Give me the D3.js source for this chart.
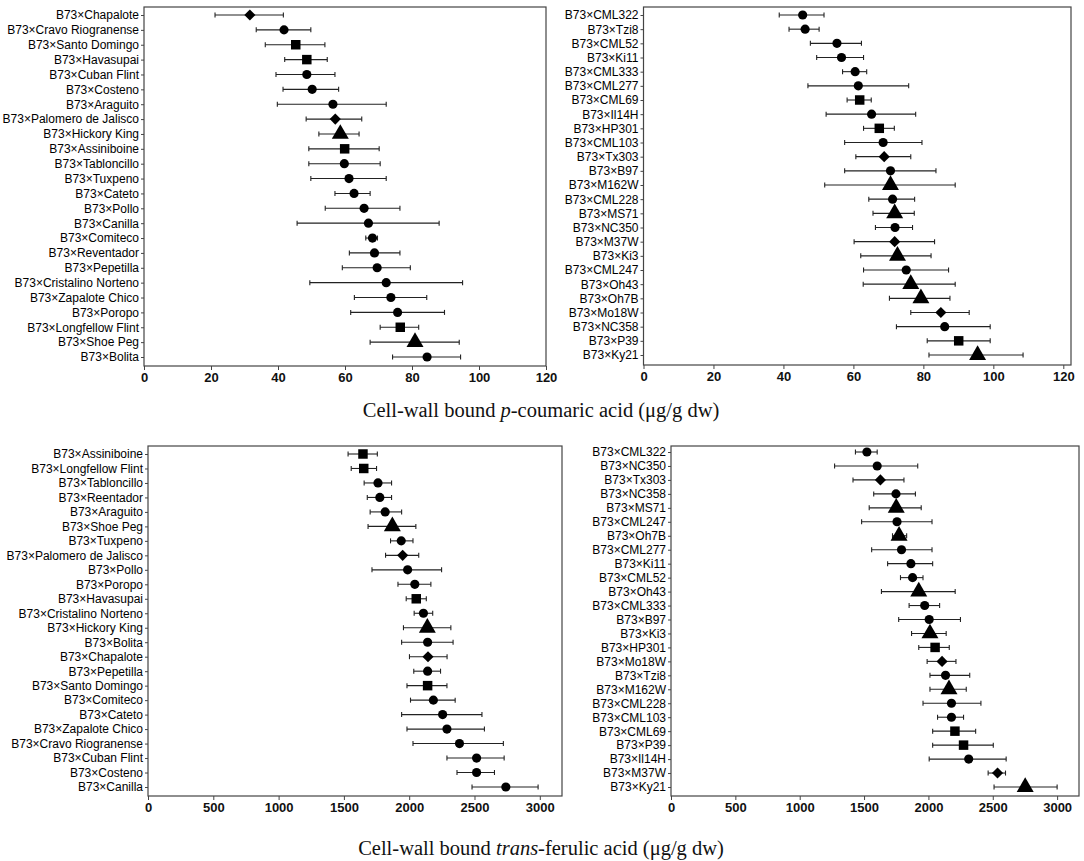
<!DOCTYPE html>
<html>
<head>
<meta charset="utf-8">
<script src="https://cdn.jsdelivr.net/npm/d3@7"></script>
<style>
  body { margin: 0; background: #fff; }
  svg { display: block; }
</style>
</head>
<body>
<div id="chart"></div>
<script>
// p-coumaric acid, landrace hybrids (top left)
const pcLandNames = ["Chapalote", "Cravo Riogranense", "Santo Domingo", "Havasupai", "Cuban Flint", "Costeno",
  "Araguito", "Palomero de Jalisco", "Hickory King", "Assiniboine", "Tabloncillo", "Tuxpeno", "Cateto", "Pollo",
  "Canilla", "Comiteco", "Reventador", "Pepetilla", "Cristalino Norteno", "Zapalote Chico", "Poropo",
  "Longfellow Flint", "Shoe Peg", "Bolita"];
const pcLandMean = [31.6, 41.8, 45.3, 48.6, 48.6, 50.2, 56.4, 57.1, 58.6, 59.9, 59.8, 61.2, 62.7, 65.7,
  67.0, 68.2, 68.8, 69.6, 72.3, 73.7, 75.7, 76.5, 80.9, 84.5];
const pcLandLow = [21.2, 33.5, 36.2, 42.0, 39.4, 41.5, 39.8, 48.4, 52.2, 49.2, 49.2, 49.8, 57.0, 54.1,
  45.7, 66.2, 61.3, 59.2, 49.5, 62.8, 61.7, 70.5, 67.5, 74.2];
const pcLandHigh = [41.6, 49.8, 54.0, 54.7, 57.0, 58.1, 72.3, 65.0, 64.2, 70.2, 70.5, 72.3, 67.5, 76.4,
  88.1, 69.7, 76.4, 79.5, 95.1, 84.4, 89.7, 82.0, 94.1, 94.5];

// p-coumaric acid, inbred hybrids (top right)
const pcInbNames = ["CML322", "Tzi8", "CML52", "Ki11", "CML333", "CML277", "CML69", "Il14H", "HP301", "CML103",
  "Tx303", "B97", "M162W", "CML228", "MS71", "NC350", "M37W", "Ki3", "CML247", "Oh43", "Oh7B", "Mo18W",
  "NC358", "P39", "Ky21"];
const pcInbMean = [45.5, 46.2, 55.3, 56.6, 60.5, 61.4, 61.8, 65.2, 67.4, 68.5, 68.8, 70.6, 70.6, 71.2,
  71.8, 71.9, 71.8, 72.6, 75.1, 76.4, 79.3, 85.0, 86.1, 90.1, 95.5];
const pcInbLow = [38.8, 41.6, 47.7, 49.5, 56.9, 47.0, 58.2, 52.2, 62.9, 57.5, 60.7, 57.5, 51.8, 64.4,
  65.6, 66.3, 60.2, 62.1, 62.9, 62.8, 70.3, 76.4, 72.3, 81.1, 81.6];
const pcInbHigh = [51.6, 50.2, 62.3, 62.9, 63.8, 75.8, 65.1, 77.8, 71.7, 79.6, 76.4, 83.6, 89.1, 77.5,
  77.4, 76.9, 83.2, 82.2, 87.2, 89.1, 87.6, 93.1, 99.1, 99.1, 108.5];

// trans-ferulic acid, landrace hybrids (bottom left)
const faLandNames = ["Assiniboine", "Longfellow Flint", "Tabloncillo", "Reentador", "Araguito", "Shoe Peg",
  "Tuxpeno", "Palomero de Jalisco", "Pollo", "Poropo", "Havasupai", "Cristalino Norteno", "Hickory King",
  "Bolita", "Chapalote", "Pepetilla", "Santo Domingo", "Comiteco", "Cateto", "Zapalote Chico",
  "Cravo Riogranense", "Cuban Flint", "Costeno", "Canilla"];
const faLandMean = [1646, 1652, 1761, 1775, 1816, 1871, 1939, 1950, 1988, 2043, 2054, 2109, 2139,
  2141, 2144, 2141, 2141, 2185, 2256, 2289, 2385, 2516, 2516, 2740];
const faLandLow = [1532, 1556, 1655, 1679, 1701, 1685, 1857, 1819, 1715, 1914, 1977, 2038, 1956,
  1942, 2002, 2035, 1983, 2010, 1942, 1983, 2029, 2289, 2366, 2481];
const faLandHigh = [1756, 1750, 1865, 1865, 1942, 2051, 2029, 2073, 2248, 2166, 2131, 2180, 2319,
  2336, 2290, 2240, 2289, 2352, 2557, 2576, 2721, 2727, 2653, 2987];

// trans-ferulic acid, inbred hybrids (bottom right)
const faInbNames = ["CML322", "NC350", "Tx303", "NC358", "MS71", "CML247", "Oh7B", "CML277", "Ki11", "CML52",
  "Oh43", "CML333", "B97", "Ki3", "HP301", "Mo18W", "Tzi8", "M162W", "CML228", "CML103", "CML69", "P39",
  "Il14H", "M37W", "Ky21"];
const faInbMean = [1522, 1602, 1627, 1748, 1750, 1756, 1772, 1791, 1864, 1877, 1925, 1971, 2006, 2012,
  2052, 2106, 2133, 2160, 2179, 2179, 2206, 2273, 2313, 2537, 2752];
const faInbLow = [1433, 1271, 1414, 1575, 1540, 1481, 1721, 1559, 1683, 1783, 1635, 1850, 1769, 1869,
  1925, 1990, 2012, 2012, 1958, 2071, 2033, 2033, 2006, 2464, 2510];
const faInbHigh = [1602, 1917, 1810, 1899, 1944, 2028, 1831, 2028, 2033, 1958, 2208, 2087, 2249, 2138,
  2162, 2214, 2321, 2294, 2408, 2273, 2367, 2504, 2604, 2599, 3000];

// marker shape groups
const squareLines = ["Santo Domingo", "Havasupai", "Assiniboine", "Longfellow Flint", "CML69", "HP301", "P39"];
const diamondLines = ["Chapalote", "Palomero de Jalisco", "Tx303", "M37W", "Mo18W"];
const triangleLines = ["Hickory King", "Shoe Peg", "M162W", "MS71", "Ki3", "Oh43", "Oh7B", "Ky21"];

const pcTicks = [0, 20, 40, 60, 80, 100, 120];
const faTicks = [0, 500, 1000, 1500, 2000, 2500, 3000];

const W = 1084, H = 861;
const svg = d3.select("#chart").append("svg")
  .attr("width", W)
  .attr("height", H)
  .style("font-family", "Lato, 'Open Sans', sans-serif");

function drawPanel(names, mean, low, high, box, xMax, ticks) {
  const x = d3.scaleLinear().domain([0, xMax]).range([box.left, box.right]);
  const y = d3.scalePoint().domain(names).range([box.rowTop, box.rowBottom]);
  const g = svg.append("g");

  g.append("rect")
    .attr("x", box.left).attr("y", box.top)
    .attr("width", box.right - box.left).attr("height", box.bottom - box.top)
    .attr("fill", "none").attr("stroke", "#444").attr("stroke-width", 1.2);

  // y axis
  const ya = g.append("g")
    .attr("transform", "translate(" + box.left + ",0)")
    .call(d3.axisLeft(y).tickSize(3).tickPadding(2).tickFormat(d => "B73×" + d));
  ya.select(".domain").remove();
  ya.selectAll("line").attr("stroke", "#444");
  ya.selectAll("text").attr("font-size", 12).attr("fill", "#000");

  // x axis
  const xa = g.append("g")
    .attr("transform", "translate(0," + box.bottom + ")")
    .call(d3.axisBottom(x).tickValues(ticks).tickFormat(d3.format("d")).tickSize(4).tickPadding(3));
  xa.select(".domain").remove();
  xa.selectAll("line").attr("stroke", "#444");
  xa.selectAll("text").attr("font-size", 13).attr("font-weight", 600).attr("fill", "#111");

  const rows = names.map((n, i) => ({ name: n, mean: mean[i], low: low[i], high: high[i] }));
  const bars = g.append("g").attr("stroke", "#222").attr("stroke-width", 1.1);
  bars.selectAll(".err").data(rows).join("line")
    .attr("x1", d => x(d.low)).attr("x2", d => x(d.high))
    .attr("y1", d => y(d.name)).attr("y2", d => y(d.name));
  bars.selectAll(".capL").data(rows).join("line").attr("class", "capL")
    .attr("x1", d => x(d.low)).attr("x2", d => x(d.low))
    .attr("y1", d => y(d.name) - 2.5).attr("y2", d => y(d.name) + 2.5);
  bars.selectAll(".capR").data(rows).join("line").attr("class", "capR")
    .attr("x1", d => x(d.high)).attr("x2", d => x(d.high))
    .attr("y1", d => y(d.name) - 2.5).attr("y2", d => y(d.name) + 2.5);

  const shape = d => {
    if (squareLines.includes(d.name)) return d3.symbol(d3.symbolSquare, 90)();
    if (diamondLines.includes(d.name)) return d3.symbol(d3.symbolSquare, 62)();
    if (triangleLines.includes(d.name)) return d3.symbol(d3.symbolTriangle, 125)();
    return d3.symbol(d3.symbolCircle, 66)();
  };
  g.append("g").selectAll("path").data(rows).join("path")
    .attr("d", shape)
    .attr("fill", "#000")
    .attr("transform", d => "translate(" + x(d.mean) + "," + y(d.name) + ")" +
      (diamondLines.includes(d.name) ? " rotate(45)" : ""));
}

drawPanel(pcLandNames, pcLandMean, pcLandLow, pcLandHigh,
  { left: 144, right: 546, top: 7, bottom: 366, rowTop: 15, rowBottom: 357 }, 120, pcTicks);
drawPanel(pcInbNames, pcInbMean, pcInbLow, pcInbHigh,
  { left: 643.5, right: 1071, top: 7, bottom: 365, rowTop: 15, rowBottom: 355 }, 122.2, pcTicks);
drawPanel(faLandNames, faLandMean, faLandLow, faLandHigh,
  { left: 148, right: 562, top: 446, bottom: 796, rowTop: 454, rowBottom: 787 }, 3170, faTicks);
drawPanel(faInbNames, faInbMean, faInbLow, faInbHigh,
  { left: 671, right: 1079, top: 446, bottom: 796, rowTop: 452, rowBottom: 787 }, 3170, faTicks);

// axis titles
const t1 = svg.append("text")
  .attr("x", 541).attr("y", 417)
  .attr("text-anchor", "middle")
  .attr("font-family", "'Liberation Serif', 'Times New Roman', serif")
  .attr("font-size", 20.5).attr("fill", "#111");
t1.append("tspan").text("Cell-wall bound ");
t1.append("tspan").attr("font-style", "italic").text("p");
t1.append("tspan").text("-coumaric acid (μg/g dw)");

const t2 = svg.append("text")
  .attr("x", 541).attr("y", 855)
  .attr("text-anchor", "middle")
  .attr("font-family", "'Liberation Serif', 'Times New Roman', serif")
  .attr("font-size", 20.5).attr("fill", "#111");
t2.append("tspan").text("Cell-wall bound ");
t2.append("tspan").attr("font-style", "italic").text("trans");
t2.append("tspan").text("-ferulic acid (μg/g dw)");
</script>
</body>
</html>
